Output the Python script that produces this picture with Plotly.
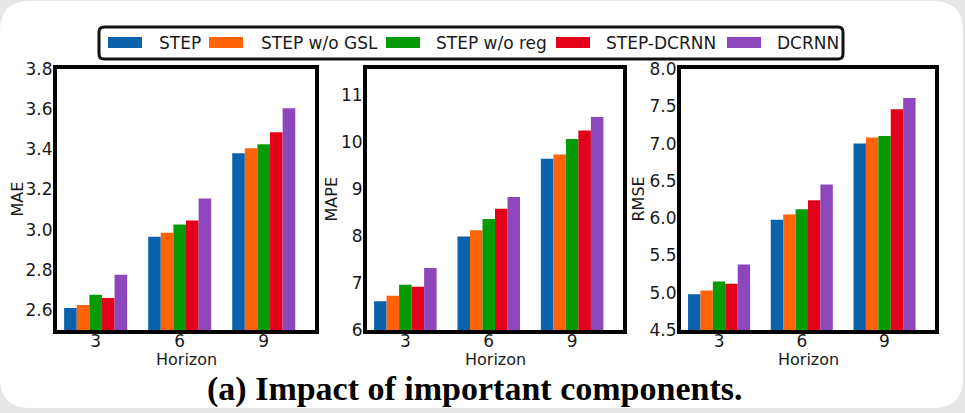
import plotly.graph_objects as go

W, H = 965, 413

# ---------------- data ----------------
horizons = ["3", "6", "9"]
series_names = ["STEP", "STEP w/o GSL", "STEP w/o reg", "STEP-DCRNN", "DCRNN"]
colors = ["#0a62ad", "#ff6308", "#079a07", "#e2001a", "#8d47bd"]

mae_step = [2.61, 2.965, 3.38]
mae_wo_gsl = [2.625, 2.985, 3.405]
mae_wo_reg = [2.675, 3.025, 3.425]
mae_step_dcrnn = [2.66, 3.045, 3.485]
mae_dcrnn = [2.775, 3.155, 3.605]

mape_step = [6.61, 7.99, 9.64]
mape_wo_gsl = [6.73, 8.12, 9.73]
mape_wo_reg = [6.96, 8.36, 10.06]
mape_step_dcrnn = [6.92, 8.58, 10.24]
mape_dcrnn = [7.32, 8.83, 10.53]

rmse_step = [4.98, 5.98, 7.00]
rmse_wo_gsl = [5.03, 6.05, 7.08]
rmse_wo_reg = [5.15, 6.12, 7.10]
rmse_step_dcrnn = [5.12, 6.24, 7.46]
rmse_dcrnn = [5.38, 6.45, 7.61]

mae_ticks = [2.6, 2.8, 3.0, 3.2, 3.4, 3.6, 3.8]
mape_ticks = [6, 7, 8, 9, 10, 11]
rmse_ticks = [4.5, 5.0, 5.5, 6.0, 6.5, 7.0, 7.5, 8.0]

panels = [
    ("MAE", [mae_step, mae_wo_gsl, mae_wo_reg, mae_step_dcrnn, mae_dcrnn], [2.5, 3.8], mae_ticks, ".1f"),
    ("MAPE", [mape_step, mape_wo_gsl, mape_wo_reg, mape_step_dcrnn, mape_dcrnn], [6, 11.55], mape_ticks, "d"),
    ("RMSE", [rmse_step, rmse_wo_gsl, rmse_wo_reg, rmse_step_dcrnn, rmse_dcrnn], [4.5, 8.0], rmse_ticks, ".1f"),
]

# ---------------- layout helpers (pixels -> paper) ----------------
def px(x):
    return x / W

def py(y):
    return 1 - y / H

def rounded_rect(x0, y0, x1, y1, r):
    pts = [
        f"M {px(x0 + r)} {py(y0)}",
        f"L {px(x1 - r)} {py(y0)}",
        f"Q {px(x1)} {py(y0)} {px(x1)} {py(y0 + r)}",
        f"L {px(x1)} {py(y1 - r)}",
        f"Q {px(x1)} {py(y1)} {px(x1 - r)} {py(y1)}",
        f"L {px(x0 + r)} {py(y1)}",
        f"Q {px(x0)} {py(y1)} {px(x0)} {py(y1 - r)}",
        f"L {px(x0)} {py(y0 + r)}",
        f"Q {px(x0)} {py(y0)} {px(x0 + r)} {py(y0)}",
        "Z",
    ]
    return " ".join(pts)

frames_x = [(57, 315), (367, 623), (681, 935)]
frame_y = (69, 330)
ylabel_x = [17, 331, 638]

fig = go.Figure()
annotations = []
shapes = []

tick_font = dict(family="DejaVu Sans", size=17, color="#1a1a1a")

for i, (label, vals, yr, ticks, fmt) in enumerate(panels):
    n = "" if i == 0 else str(i + 1)
    xa, ya = "x" + n, "y" + n
    for s, name in enumerate(series_names):
        fig.add_trace(go.Bar(
            x=list(range(len(horizons))), y=vals[s], name=name,
            marker=dict(color=colors[s], line=dict(width=0)),
            xaxis=xa, yaxis=ya, showlegend=False,
        ))
    x0, x1 = frames_x[i]
    fig.update_layout(**{
        "xaxis" + n: dict(
            domain=[px(x0), px(x1)], anchor=ya, range=[-0.46, 2.61],
            tickmode="array", tickvals=list(range(len(horizons))), ticktext=horizons,
            showline=True, linecolor="black", linewidth=4, mirror=True,
            ticks="", ticklen=0, ticklabelstandoff=-7,
            showgrid=False, zeroline=False, tickfont=tick_font,
            automargin=False, fixedrange=True,
        ),
        "yaxis" + n: dict(
            domain=[py(frame_y[1]), py(frame_y[0])], anchor=xa, range=yr,
            tickmode="array", tickvals=ticks, ticktext=[format(t, fmt) if fmt != "d" else str(t) for t in ticks],
            showline=True, linecolor="black", linewidth=4, mirror=True,
            ticks="", ticklen=0, ticklabelstandoff=-3,
            showgrid=False, zeroline=False, tickfont=tick_font,
            automargin=False, fixedrange=True,
        ),
    })
    annotations.append(dict(
        text=label, x=px(ylabel_x[i]), y=py((frame_y[0] + frame_y[1]) / 2),
        xref="paper", yref="paper", showarrow=False, textangle=-90,
        font=dict(family="DejaVu Sans", size=16, color="#1a1a1a"),
        xanchor="center", yanchor="middle",
    ))
    annotations.append(dict(
        text="Horizon", x=px((x0 + x1) / 2), y=py(359),
        xref="paper", yref="paper", showarrow=False,
        font=dict(family="DejaVu Sans", size=16, color="#1a1a1a"),
        xanchor="center", yanchor="middle",
    ))

# caption
annotations.append(dict(
    text="<b>(a) Impact of important components.</b>", x=px(474), y=py(389),
    xref="paper", yref="paper", showarrow=False,
    font=dict(family="Liberation Serif", size=34, color="black"),
    xanchor="center", yanchor="middle",
))

# card background
shapes.append(dict(type="path", path=rounded_rect(0, 1, 963, 408, 30),
                   xref="paper", yref="paper", fillcolor="white",
                   line=dict(width=0), layer="below"))

# custom legend
shapes.append(dict(type="path", path=rounded_rect(99, 27, 843, 59, 5),
                   xref="paper", yref="paper", fillcolor="white",
                   line=dict(color="#111111", width=3), layer="above"))
patch_x = [108, 209, 386, 556, 727]
text_x = [157, 259, 434, 604, 775]
for s, name in enumerate(series_names):
    shapes.append(dict(type="rect", xref="paper", yref="paper",
                       x0=px(patch_x[s]), x1=px(patch_x[s] + 34),
                       y0=py(48), y1=py(37),
                       fillcolor=colors[s], line=dict(width=0)))
    annotations.append(dict(
        text=name, x=px(text_x[s]), y=py(43), xref="paper", yref="paper",
        showarrow=False, xanchor="left", yanchor="middle",
        font=dict(family="DejaVu Sans", size=17, color="#1a1a1a"),
    ))

fig.update_layout(
    width=W, height=H,
    margin=dict(l=0, r=0, t=0, b=0),
    paper_bgcolor="#e6e6e6",
    plot_bgcolor="white",
    barmode="group", bargap=0.25, bargroupgap=0,
    showlegend=False,
    annotations=annotations,
    shapes=shapes,
)

fig.write_html("out.html",
               config={"displayModeBar": False},
               post_script="document.body.style.margin='0';document.body.style.overflow='hidden';")
